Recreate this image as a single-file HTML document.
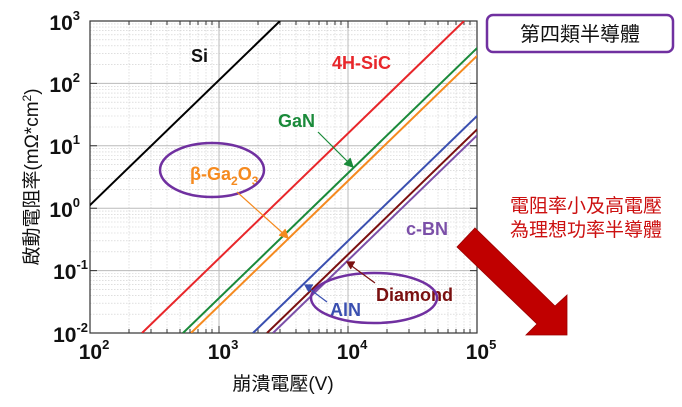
<!DOCTYPE html>
<html><head><meta charset="utf-8"><style>
html,body{margin:0;padding:0;background:#fff;width:682px;height:407px;overflow:hidden}
text{font-family:"Liberation Sans","Noto Sans CJK TC",sans-serif}
</style></head><body>
<svg width="682" height="407" viewBox="0 0 682 407" xmlns="http://www.w3.org/2000/svg">
<defs><clipPath id="c"><rect x="90" y="21" width="387" height="312"/></clipPath></defs>
<g stroke="#ccc" stroke-width="0.6" stroke-dasharray="1.5,1.5">
<path d="M129 21V333M151 21V333M167 21V333M180 21V333M190 21V333M198 21V333M206 21V333M212 21V333
M258 21V333M280 21V333M296 21V333M309 21V333M319 21V333M327 21V333M335 21V333M341 21V333
M387 21V333M409 21V333M425 21V333M438 21V333M448 21V333M456 21V333M464 21V333M470 21V333"/>
<path d="M90 64.6H477M90 53.6H477M90 45.8H477M90 39.8H477M90 34.8H477M90 30.7H477M90 27.1H477M90 23.9H477
M90 127H477M90 116H477M90 108.2H477M90 102.2H477M90 97.2H477M90 93.1H477M90 89.5H477M90 86.3H477
M90 189.4H477M90 178.4H477M90 170.6H477M90 164.6H477M90 159.6H477M90 155.5H477M90 151.9H477M90 148.7H477
M90 251.8H477M90 240.8H477M90 233H477M90 227H477M90 222H477M90 217.9H477M90 214.3H477M90 211.1H477
M90 314.2H477M90 303.2H477M90 295.4H477M90 289.4H477M90 284.4H477M90 280.3H477M90 276.7H477M90 273.5H477"/>
</g>
<g stroke="#bbb" stroke-width="1">
<path d="M219 21V333M348 21V333M90 83.4H477M90 145.8H477M90 208.2H477M90 270.6H477"/>
</g>
<g stroke="#333" stroke-width="1">
<path d="M129 333v-4M151 333v-4M167 333v-4M180 333v-4M190 333v-4M198 333v-4M206 333v-4M212 333v-4M219 333v-7
M258 333v-4M280 333v-4M296 333v-4M309 333v-4M319 333v-4M327 333v-4M335 333v-4M341 333v-4M348 333v-7
M387 333v-4M409 333v-4M425 333v-4M438 333v-4M448 333v-4M456 333v-4M464 333v-4M470 333v-4
M129 21v4M151 21v4M167 21v4M180 21v4M190 21v4M198 21v4M206 21v4M212 21v4M219 21v7
M258 21v4M280 21v4M296 21v4M309 21v4M319 21v4M327 21v4M335 21v4M341 21v4M348 21v7
M387 21v4M409 21v4M425 21v4M438 21v4M448 21v4M456 21v4M464 21v4M470 21v4
M90 83.4h7M90 145.8h7M90 208.2h7M90 270.6h7M477 83.4h-7M477 145.8h-7M477 208.2h-7M477 270.6h-7"/>
</g>
<rect x="90" y="21" width="387" height="312" fill="none" stroke="#333" stroke-width="1.2"/>
<g clip-path="url(#c)" stroke-width="2" fill="none">
<line x1="-42" y1="333" x2="280" y2="21" stroke="#000"/>
<line x1="142" y1="333" x2="464" y2="21" stroke="#e8262a"/>
<line x1="183" y1="333" x2="505" y2="21" stroke="#1a8a3a"/>
<line x1="191" y1="333" x2="513" y2="21" stroke="#f58a1f"/>
<line x1="253" y1="333" x2="575" y2="21" stroke="#3a4fb0"/>
<line x1="267" y1="333" x2="589" y2="21" stroke="#7a1010"/>
<line x1="273" y1="333" x2="595" y2="21" stroke="#7b4fa8"/>
</g>
<g font-size="21" font-weight="bold" fill="#111" text-anchor="end">
<text x="80" y="30">10<tspan font-size="13" dy="-10">3</tspan></text>
<text x="80" y="92">10<tspan font-size="13" dy="-10">2</tspan></text>
<text x="80" y="154">10<tspan font-size="13" dy="-10">1</tspan></text>
<text x="80" y="217">10<tspan font-size="13" dy="-10">0</tspan></text>
<text x="88" y="279">10<tspan font-size="13" dy="-10">-1</tspan></text>
<text x="88" y="342">10<tspan font-size="13" dy="-10">-2</tspan></text>
</g>
<g font-size="21" font-weight="bold" fill="#111" text-anchor="middle">
<text x="94" y="359">10<tspan font-size="13" dy="-10">2</tspan></text>
<text x="223" y="359">10<tspan font-size="13" dy="-10">3</tspan></text>
<text x="352" y="359">10<tspan font-size="13" dy="-10">4</tspan></text>
<text x="481" y="359">10<tspan font-size="13" dy="-10">5</tspan></text>
</g>
<text x="283" y="390" font-size="19" text-anchor="middle" fill="#111">崩潰電壓(V)</text>
<text transform="translate(38,177) rotate(-90)" font-size="19" text-anchor="middle" fill="#111">啟動電阻率(mΩ*cm<tspan font-size="12" dy="-7">2</tspan><tspan dy="7">)</tspan></text>
<g font-size="18" font-weight="bold">
<text x="191" y="62" fill="#111">Si</text>
<text x="332" y="69" fill="#e8262a">4H-SiC</text>
<text x="278" y="127" fill="#1a8a3a">GaN</text>
<text x="190" y="180" fill="#f58a1f">β-Ga<tspan font-size="12" dy="5">2</tspan><tspan dy="-5">O</tspan><tspan font-size="12" dy="5">3</tspan></text>
<text x="406" y="235" fill="#7b4fa8">c-BN</text>
<text x="330" y="316" fill="#3a4fb0">AlN</text>
<text x="376" y="301" fill="#7a1010">Diamond</text>
</g>
<ellipse cx="212" cy="170" rx="52" ry="27" fill="none" stroke="#7030a0" stroke-width="2.5"/>
<ellipse cx="374" cy="298" rx="63" ry="25" fill="none" stroke="#7030a0" stroke-width="2.5"/>
<g stroke-width="1.2" fill="none">
<line x1="318" y1="132" x2="351" y2="165" stroke="#1a8a3a"/>
<path d="M344 164L353 167L350 158" stroke="#1a8a3a" fill="#1a8a3a"/>
<line x1="237" y1="192" x2="286" y2="236" stroke="#f58a1f"/>
<path d="M279 235L288 238L285 229" stroke="#f58a1f" fill="#f58a1f"/>
<line x1="327" y1="302" x2="307" y2="287" stroke="#3a4fb0"/>
<path d="M313 285L305 285L309 292" stroke="#3a4fb0" fill="#3a4fb0"/>
<line x1="375" y1="283" x2="349" y2="264" stroke="#7a1010"/>
<path d="M355 262L347 262L351 269" stroke="#7a1010" fill="#7a1010"/>
</g>
<rect x="487" y="15" width="186" height="37" rx="6" fill="#fff" stroke="#7030a0" stroke-width="2.5"/>
<text x="580" y="41" font-size="20" text-anchor="middle" fill="#111">第四類半導體</text>
<g font-size="19" fill="#cc1010" text-anchor="middle">
<text x="586" y="212">電阻率小及高電壓</text>
<text x="586" y="236">為理想功率半導體</text>
</g>
<polygon points="475,228 555,306 567,295 567,335 526,335 537,324 457,247" fill="#c00000" stroke="#9a0000" stroke-width="0.8"/>
</svg>
</body></html>
